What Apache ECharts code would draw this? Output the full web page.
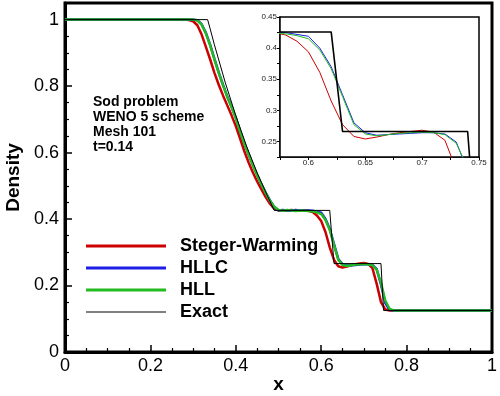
<!DOCTYPE html>
<html>
<head>
<meta charset="utf-8">
<script src="https://cdn.jsdelivr.net/npm/echarts@6/dist/echarts.min.js"></script>
<style>
  html, body { margin: 0; padding: 0; background: #fff; }
  #chart { width: 500px; height: 396px; }
</style>
</head>
<body>
<div id="chart"></div>
<script>
// grid points of the numerical solutions (Mesh 101)
var xs = [0, 0.28, 0.29, 0.30, 0.31, 0.32, 0.33, 0.34, 0.35, 0.36, 0.37, 0.38, 0.39,
  0.40, 0.41, 0.42, 0.43, 0.44, 0.45, 0.46, 0.47, 0.48, 0.49, 0.50, 0.51, 0.52, 0.53,
  0.54, 0.55, 0.56, 0.57, 0.58, 0.59, 0.60, 0.61, 0.62, 0.63, 0.64, 0.65, 0.66, 0.67,
  0.68, 0.69, 0.70, 0.71, 0.72, 0.73, 0.74, 0.75, 0.76, 0.77, 0.78, 1]

var stegerWarming = [1, 1, 0.999, 0.995, 0.983, 0.955, 0.918, 0.880, 0.840, 0.804, 0.772, 0.742, 0.712,
  0.680, 0.642, 0.604, 0.570, 0.540, 0.513, 0.489, 0.466, 0.446, 0.431, 0.426, 0.425, 0.426, 0.427,
  0.426, 0.425, 0.426, 0.425, 0.421, 0.411, 0.394, 0.361, 0.315, 0.277, 0.258, 0.254, 0.257, 0.261,
  0.264, 0.266, 0.268, 0.265, 0.252, 0.205, 0.150, 0.128, 0.125, 0.125, 0.125, 0.125]

var hllc = [1, 1, 1, 1, 0.998, 0.986, 0.960, 0.924, 0.882, 0.841, 0.804, 0.769, 0.738,
  0.705, 0.665, 0.628, 0.595, 0.563, 0.533, 0.505, 0.479, 0.456, 0.436, 0.426, 0.427, 0.426, 0.425,
  0.427, 0.426, 0.426, 0.426, 0.425, 0.422, 0.419, 0.400, 0.370, 0.325, 0.280, 0.264, 0.260, 0.261,
  0.262, 0.263, 0.264, 0.264, 0.262, 0.249, 0.203, 0.148, 0.127, 0.125, 0.125, 0.125]

var hll = [1, 1, 1, 1, 0.998, 0.985, 0.958, 0.922, 0.880, 0.840, 0.803, 0.768, 0.737,
  0.704, 0.664, 0.627, 0.594, 0.562, 0.532, 0.504, 0.478, 0.455, 0.437, 0.427, 0.425, 0.427, 0.426,
  0.424, 0.426, 0.425, 0.424, 0.423, 0.420, 0.415, 0.397, 0.367, 0.322, 0.277, 0.262, 0.259, 0.261,
  0.263, 0.264, 0.265, 0.264, 0.261, 0.247, 0.208, 0.155, 0.130, 0.125, 0.125, 0.125]

var exactX = [0, 0.334, 0.34, 0.35, 0.375, 0.40, 0.425, 0.45, 0.475, 0.49, 0.62, 0.63, 0.74, 0.746, 1]
var exactY = [1, 1, 0.972, 0.924, 0.812, 0.711, 0.620, 0.539, 0.467, 0.426, 0.426, 0.266, 0.266, 0.125, 0.125]

var names = ['Steger-Warming', 'HLLC', 'HLL', 'Exact']
var colors = ['#cc0000', '#1e1ee6', '#22bb22', '#000000']
var annotation = ['Sod problem', 'WENO 5 scheme', 'Mesh 101', 't=0.14']

function pairs(x, y) {
  var out = []
  for (var i = 0; i < x.length; i++) out.push([x[i], y[i]])
  return out
}

var curves = [
  pairs(xs, stegerWarming),
  pairs(xs, hllc),
  pairs(xs, hll),
  pairs(exactX, exactY)
]

var font = '"Liberation Sans", Arial, sans-serif'

function insetLabel(v) {
  var k = Math.round(v * 40)
  return k % 2 === 0 ? String(+v.toFixed(2)) : ''
}

var series = []
for (var i = 0; i < 4; i++) {
  series.push({
    name: names[i],
    type: 'line',
    xAxisIndex: 0,
    yAxisIndex: 0,
    data: curves[i],
    symbol: 'none',
    color: colors[i],
    lineStyle: { width: i === 3 ? 1 : 2.5, color: colors[i] },
    z: 3 + i
  })
}
for (var j = 0; j < 4; j++) {
  series.push({
    name: names[j],
    type: 'line',
    xAxisIndex: 1,
    yAxisIndex: 1,
    data: curves[j],
    symbol: 'none',
    color: colors[j],
    lineStyle: { width: j === 3 ? 1.6 : 1, color: colors[j] },
    z: 13 + j
  })
}

// legend icons: plain bars, thick for schemes, thin for exact
var legendData = names.map(function(n, k) {
  return { name: n, icon: k === 3 ? 'path://M0,0L80,0L80,1L0,1Z' : 'path://M0,0L80,0L80,3L0,3Z' }
})

var chart = echarts.init(document.getElementById('chart'))
chart.setOption({
  animation: false,
  backgroundColor: '#fff',
  grid: [
    { left: 65, right: 8, top: 3, bottom: 44, show: true, borderColor: '#000', borderWidth: 3,
      outerBoundsMode: 'none' },
    { left: 280, top: 17, width: 199, height: 140, show: true, backgroundColor: '#fff',
      borderColor: '#000', borderWidth: 1.5, z: 10, outerBoundsMode: 'none' }
  ],
  legend: {
    data: legendData,
    orient: 'vertical',
    left: 86,
    top: 237,
    padding: 0,
    itemWidth: 80,
    itemHeight: 14,
    itemGap: 4,
    selectedMode: false,
    textStyle: { fontFamily: font, fontWeight: 'bold', fontSize: 18, color: '#000', padding: [0, 0, 0, 9] }
  },
  graphic: [{
    type: 'text',
    left: 93,
    top: 94,
    style: {
      text: annotation.join('\n'),
      font: 'bold 14px ' + font,
      lineHeight: 15.3,
      fill: '#000'
    }
  }],
  xAxis: [
    {
      gridIndex: 0,
      type: 'value',
      min: 0,
      max: 1,
      interval: 0.2,
      name: 'x',
      nameLocation: 'middle',
      nameGap: 23,
      nameMoveOverlap: false,
      nameTextStyle: { fontFamily: font, fontWeight: 'bold', fontSize: 19, color: '#000' },
      axisLine: { lineStyle: { color: '#000', width: 3 } },
      axisTick: { inside: true, length: 7, lineStyle: { color: '#000', width: 1.5 } },
      minorTick: { show: true, splitNumber: 4, length: 4, lineStyle: { color: '#000', width: 1.2 } },
      splitLine: { show: false },
      axisLabel: { fontFamily: font, fontSize: 18, color: '#000', margin: 5 }
    },
    {
      gridIndex: 1,
      type: 'value',
      min: 0.575,
      max: 0.75,
      interval: 0.025,
      axisLine: { lineStyle: { color: '#000', width: 1.5 } },
      axisTick: { length: 3, lineStyle: { color: '#000' } },
      splitLine: { show: false },
      axisLabel: { fontFamily: font, fontSize: 8, color: '#222', margin: 2, formatter: insetLabel }
    }
  ],
  yAxis: [
    {
      gridIndex: 0,
      type: 'value',
      min: 0,
      max: 1.05,
      interval: 0.2,
      name: 'Density',
      nameLocation: 'middle',
      nameGap: 42,
      nameMoveOverlap: false,
      nameTextStyle: { fontFamily: font, fontWeight: 'bold', fontSize: 19, color: '#000' },
      axisLine: { lineStyle: { color: '#000', width: 3 } },
      axisTick: { inside: true, length: 7, lineStyle: { color: '#000', width: 1.5 } },
      minorTick: { show: true, splitNumber: 4, length: 4, lineStyle: { color: '#000', width: 1.2 } },
      splitLine: { show: false },
      axisLabel: { fontFamily: font, fontSize: 18, color: '#000', margin: 6, showMaxLabel: false }
    },
    {
      gridIndex: 1,
      type: 'value',
      min: 0.225,
      max: 0.45,
      interval: 0.025,
      axisLine: { lineStyle: { color: '#000', width: 1.5 } },
      axisTick: { length: 3, lineStyle: { color: '#000' } },
      splitLine: { show: false },
      axisLabel: { fontFamily: font, fontSize: 8, color: '#222', margin: 3, formatter: insetLabel }
    }
  ],
  series: series
})
</script>
</body>
</html>
